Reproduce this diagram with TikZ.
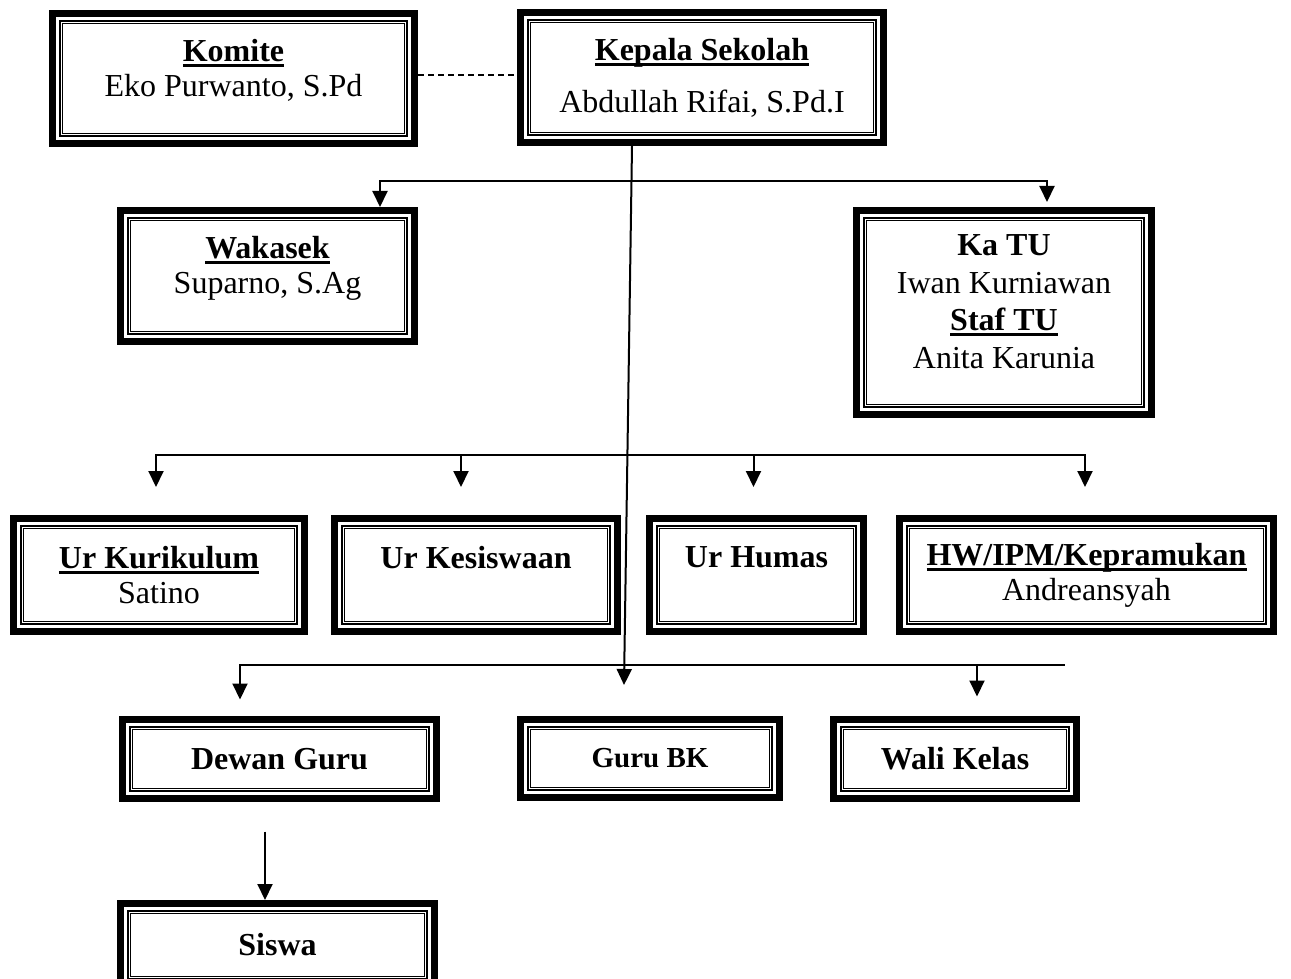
\documentclass[tikz,border=0pt]{standalone}
\usepackage{fontspec}
\setmainfont{Liberation Serif}
\usepackage{tikz}
\usetikzlibrary{arrows.meta,positioning,calc}
\newcommand{\ulword}[1]{\setbox0\hbox{#1}\rlap{\rule[-5.5pt]{\wd0}{2.8pt}}\box0}
\newcommand{\ulhead}[1]{\textbf{\ulword{#1}}}
\tikzset{
  orgbox/.style={draw,line width=7pt,inner sep=0pt,align=center,fill=white,
            font=\fontsize{32}{35}\selectfont,
            path picture={
              \draw[line width=1.8pt]
                ([shift={(7.2pt,-7.2pt)}]path picture bounding box.north west) rectangle
                ([shift={(-7.2pt,7.2pt)}]path picture bounding box.south east);
              \draw[line width=1pt]
                ([shift={(10.2pt,-10.2pt)}]path picture bounding box.north west) rectangle
                ([shift={(-10.2pt,10.2pt)}]path picture bounding box.south east);
            }},
  link/.style={line width=2pt},
  linkarrow/.style={-{Triangle[width=15pt,length=16pt]},line width=2pt},
  dashlink/.style={line width=1.6pt,dash pattern=on 6pt off 4pt},
}

\begin{document}
\begin{tikzpicture}[x=1pt,y=-1pt]
  \useasboundingbox (0,0) rectangle (1291,979);
  \clip (0,0) rectangle (1291,979);
  \node[orgbox,minimum width=362pt,minimum height=130pt] (komite) at (233.5,78.5)
       {\ulhead{Komite}\\Eko Purwanto, S.Pd\\[-14pt]\mbox{}};
  \node[orgbox,minimum width=363pt,minimum height=130pt] (kepala) at (702,77.5)
       {\ulhead{Kepala Sekolah}\\[17pt]Abdullah Rifai, S.Pd.I};
  \node[orgbox,minimum width=294pt,minimum height=131pt] (wakasek) at (267.5,276)
       {\ulhead{Wakasek}\\Suparno, S.Ag\\[-12pt]\mbox{}};
  \node[orgbox,minimum width=295pt,minimum height=204pt,
        font=\fontsize{32}{37.5}\selectfont] (katu) at (1004,312.5)
       {\textbf{Ka TU}\\Iwan Kurniawan\\\ulhead{Staf TU}\\Anita Karunia\\[-15.5pt]\mbox{}};
  \node[orgbox,minimum width=291pt,minimum height=113pt] (kurikulum) at (159,575)
       {\ulhead{Ur Kurikulum}\\Satino};
  \node[orgbox,minimum width=283pt,minimum height=113pt] (kesiswaan) at (476,575)
       {\textbf{Ur Kesiswaan}\\\mbox{}};
  \node[orgbox,minimum width=214pt,minimum height=113pt] (humas) at (756.5,575)
       {\textbf{Ur Humas}\\\mbox{}};
  \node[orgbox,minimum width=374pt,minimum height=113pt] (hw) at (1086.5,575)
       {\ulhead{HW/IPM/Kepramukan}\\Andreansyah};
  \node[orgbox,minimum width=314pt,minimum height=79pt,font=\fontsize{32}{35}\selectfont\bfseries]
       (dewan) at (279.5,759) {Dewan Guru};
  \node[orgbox,minimum width=259pt,minimum height=78pt,font=\fontsize{29}{32}\selectfont\bfseries]
       (gurubk) at (650,758.5) {Guru BK};
  \node[orgbox,minimum width=243pt,minimum height=79pt,font=\fontsize{32}{35}\selectfont\bfseries]
       (wali) at (955,759) {Wali Kelas};
  \node[orgbox,minimum width=314pt,minimum height=83pt,font=\fontsize{32}{35}\selectfont\bfseries]
       (siswa) at (277.5,945) {Siswa};

  \coordinate (bus1) at (632,181);
  \coordinate (bus2) at (630,455);
  \coordinate (bus3) at (626,665);
  \coordinate (bus3end) at (1065,665);
  \coordinate (bkTip) at (624,685);

  \draw[dashlink] ([yshift=3.5pt]komite.east) -- ([yshift=3.5pt]komite.east -| kepala.west);
  \draw[linkarrow] ([xshift=-70pt]kepala.south) -- (bkTip);

  \draw[linkarrow] (bus1) -| ([xshift=112.5pt]wakasek.north);
  \draw[linkarrow] (bus1) -| ([xshift=43pt,yshift=5pt]katu.north);

  \draw[linkarrow] (bus2) -| ([xshift=-3pt,yshift=28pt]kurikulum.north);
  \draw[linkarrow] (bus2) -| ([xshift=-15pt,yshift=28pt]kesiswaan.north);
  \draw[linkarrow] (bus2) -| ([xshift=-3pt,yshift=28pt]humas.north);
  \draw[linkarrow] (bus2) -| ([xshift=-1.5pt,yshift=28pt]hw.north);

  \draw[linkarrow] (bus3) -| ([xshift=-39.5pt,yshift=16.5pt]dewan.north);
  \draw[link] (bus3) -- (bus3end);
  \draw[linkarrow] ([xshift=22pt]bus3 -| wali.north) -- ([xshift=22pt,yshift=19.5pt]wali.north);

  \draw[linkarrow] ([xshift=-14.5pt,yshift=-29.5pt]dewan.south) -- ([xshift=-12.5pt]siswa.north);
\end{tikzpicture}
\end{document}
